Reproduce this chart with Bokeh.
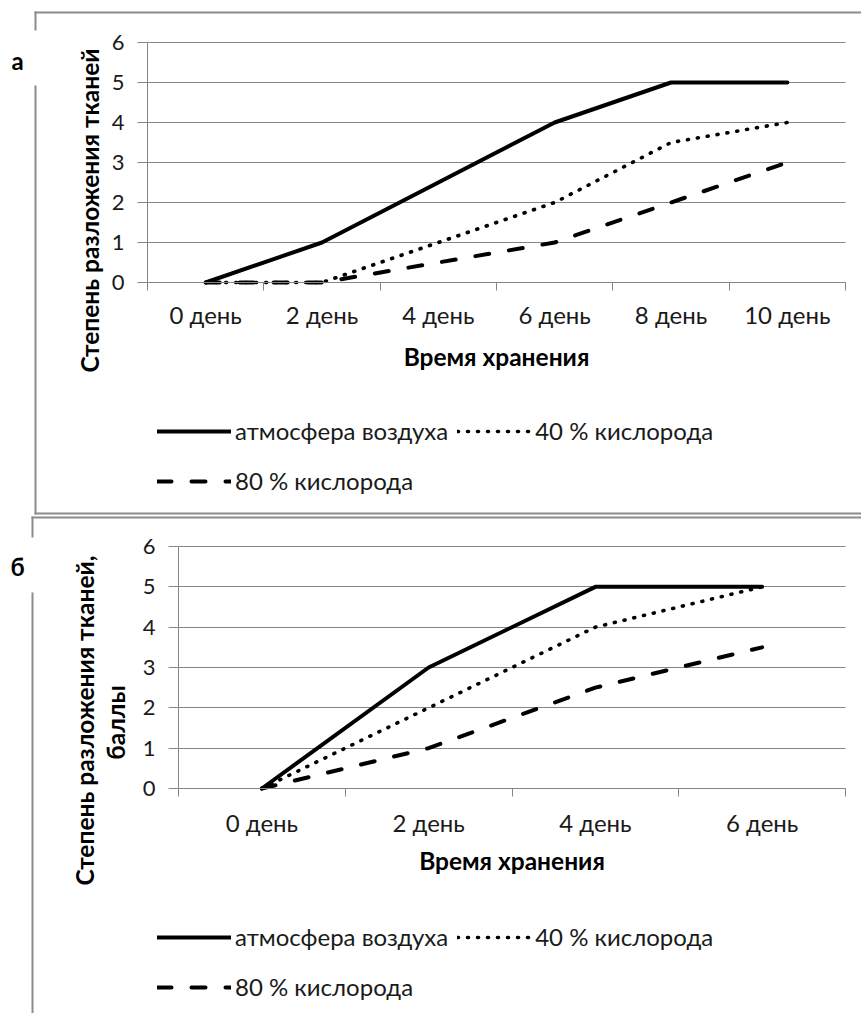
import math
from bokeh.plotting import figure
from bokeh.models import (Range1d, FixedTicker, Legend, LegendItem, Label,
                          BoxAnnotation, ColumnDataSource, LinearAxis, Grid)
from bokeh.embed import file_html
from bokeh.resources import INLINE

# ---------------- data ----------------
days_a = ["0 день", "2 день", "4 день", "6 день", "8 день", "10 день"]
air_a = [0, 1, 2.5, 4, 5, 5]
oxy40_a = [0, 0, 1, 2, 3.5, 4]
oxy80_a = [0, 0, 0.5, 1, 2, 3]

days_b = ["0 день", "2 день", "4 день", "6 день"]
air_b = [0, 3, 5, 5]
oxy40_b = [0, 2, 4, 5]
oxy80_b = [0, 1, 2.5, 3.5]

y_ticks = [0, 1, 2, 3, 4, 5, 6]
series_names = ["атмосфера воздуха", "40 % кислорода", "80 % кислорода"]
x_title = "Время хранения"
y_title_a = ["Степень разложения тканей"]
y_title_b = ["Степень разложения тканей,", "баллы"]
panel_letters = ["а", "б"]

# ---------------- style / layout ----------------
FONT = "Lato"
GRID_C = "#868686"
BORDER = "#8c8c8c"
TXT = "#1a1a1a"
W, H = 861, 1013


def x_range_for(n, left_px, right_px):
    k = (right_px - left_px) / n
    start = -0.5 - left_px / k
    return Range1d(start, start + W / k)


def y_range_for(zero_px, top_px, top_val):
    k = (zero_px - top_px) / top_val
    return Range1d(-(H - zero_px) / k, zero_px / k)


p = figure(width=W, height=H, output_backend="svg", toolbar_location=None,
           title=None, min_border=0,
           x_range=x_range_for(len(days_a), 147, 845),
           y_range=y_range_for(282, 42, 6),
           x_axis_location=None, y_axis_location=None)
p.extra_x_ranges = {"xb": x_range_for(len(days_b), 178, 845)}
p.extra_y_ranges = {"yb": y_range_for(788, 546, 6)}
p.center = [r for r in p.center if not isinstance(r, Grid)]
p.outline_line_color = None
p.background_fill_color = "white"
p.border_fill_color = "white"

HAS_CROSS = "cross_bounds" in Grid.properties()


def add_panel(xr, yr, days, air, o40, o80, label_standoff, title_standoff,
              legend_vy):
    kw = dict(x_range_name=xr, y_range_name=yr)
    n = len(days)

    xa = LinearAxis(fixed_location=0, bounds=(-0.5, n - 0.5), **kw)
    xa.ticker = FixedTicker(ticks=list(range(n)),
                            minor_ticks=[i - 0.5 for i in range(n + 1)])
    xa.major_label_overrides = {i: d for i, d in enumerate(days)}
    xa.major_tick_out = 0
    xa.major_tick_in = 0
    xa.minor_tick_out = 8
    xa.minor_tick_in = 0
    xa.minor_tick_line_color = GRID_C
    xa.axis_line_color = GRID_C
    xa.major_label_standoff = label_standoff
    xa.major_label_text_font = FONT
    xa.major_label_text_font_size = "24px"
    xa.major_label_text_color = TXT
    xa.axis_label = x_title
    xa.axis_label_text_font = FONT
    xa.axis_label_text_font_style = "bold"
    xa.axis_label_text_font_size = "24.5px"
    xa.axis_label_text_color = "black"
    xa.axis_label_standoff = title_standoff
    p.add_layout(xa, "below")

    ya = LinearAxis(fixed_location=-0.5, bounds=(0, 6), **kw)
    ya.ticker = FixedTicker(ticks=y_ticks, minor_ticks=[])
    ya.major_tick_out = 10
    ya.major_tick_in = 0
    ya.major_tick_line_color = GRID_C
    ya.axis_line_color = GRID_C
    ya.major_label_standoff = 13
    ya.major_label_text_font = FONT
    ya.major_label_text_font_size = "22px"
    ya.major_label_text_color = TXT
    p.add_layout(ya, "left")

    if HAS_CROSS:
        g = Grid(dimension=1, ticker=FixedTicker(ticks=y_ticks),
                 cross_bounds=(-0.5, n - 0.5), grid_line_color=GRID_C,
                 grid_line_width=1, **kw)
        p.add_layout(g)
    else:
        p.segment(x0=[-0.5] * len(y_ticks), x1=[n - 0.5] * len(y_ticks),
                  y0=y_ticks, y1=y_ticks, line_color=GRID_C, line_width=1,
                  **kw)

    src = ColumnDataSource(dict(x=list(range(n)), air=air, o40=o40, o80=o80))
    r1 = p.line("x", "air", source=src, line_color="black", line_width=4,
                line_join="round", line_cap="round", **kw)
    r2 = p.line("x", "o40", source=src, line_color="black", line_width=3.6,
                line_dash="1 9", line_cap="round", line_join="round", **kw)
    r3 = p.line("x", "o80", source=src, line_color="black", line_width=4,
                line_dash="14 20", line_cap="round", line_join="round", **kw)

    common = dict(orientation="horizontal", padding=0, margin=0, spacing=9,
                  glyph_width=74, glyph_height=20, label_height=20,
                  label_standoff=4, label_text_font=FONT,
                  label_text_font_size="24px", label_text_color=TXT,
                  border_line_color=None, background_fill_alpha=0)
    lg1 = Legend(items=[LegendItem(label=series_names[0], renderers=[r1]),
                        LegendItem(label=series_names[1], renderers=[r2])],
                 location=(157, legend_vy[0]), **common)
    lg2 = Legend(items=[LegendItem(label=series_names[2], renderers=[r3])],
                 location=(157, legend_vy[1]), **common)
    p.add_layout(lg1)
    p.add_layout(lg2)


add_panel("default", "default", days_a, air_a, oxy40_a, oxy80_a,
          label_standoff=9, title_standoff=10,
          legend_vy=(H - 445, H - 495))
add_panel("xb", "yb", days_b, air_b, oxy40_b, oxy80_b,
          label_standoff=11, title_standoff=6,
          legend_vy=(H - 951, H - 1001))

# ---------------- frames of the two pictures (canvas px: l, r, t, b) ----
borders = [(34, 861, 11, 13), (34, 36, 11, 30), (34, 36, 85, 514),
           (34, 861, 512, 514),
           (31, 861, 516, 518), (31, 33, 516, 537), (31, 33, 592, 1013)]
for (l, r, t, b) in borders:
    p.add_layout(BoxAnnotation(left=l, right=r, top=H - t, bottom=H - b,
                               left_units="screen", right_units="screen",
                               top_units="screen", bottom_units="screen",
                               fill_color=BORDER, fill_alpha=1,
                               line_color=None, level="overlay"))


def text_label(x, y, text, size, angle=0.0):
    p.add_layout(Label(x=x, y=H - y, x_units="screen", y_units="screen",
                       text=text, angle=angle, text_font=FONT,
                       text_font_style="bold", text_font_size=size,
                       text_align="center", text_baseline="middle",
                       text_color="black"))


text_label(17, 60, panel_letters[0], "24px")
text_label(17, 566, panel_letters[1], "24px")
text_label(89, 210, y_title_a[0], "24.5px", math.pi / 2)
text_label(84, 720, y_title_b[0], "24.5px", math.pi / 2)
text_label(115, 722, y_title_b[1], "24.5px", math.pi / 2)

open("out.html", "w").write(file_html(p, INLINE))
